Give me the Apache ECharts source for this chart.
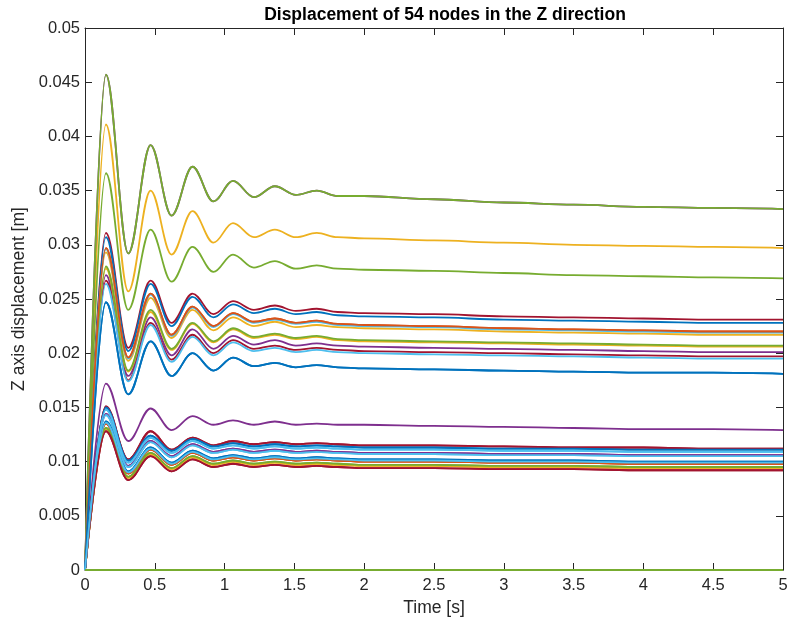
<!DOCTYPE html>
<html>
<head>
<meta charset="utf-8">
<script src="https://cdn.jsdelivr.net/npm/echarts@6/dist/echarts.min.js"></script>
<style>
  html, body { margin: 0; padding: 0; background: #fff; }
  #chart { width: 791px; height: 625px; }
</style>
</head>
<body>
<div id="chart"></div>
<script>
// Sample times [s]: start, successive peaks/troughs of the oscillation, then the settled tail
const times = [0, 0.15, 0.31, 0.47, 0.62, 0.77, 0.92, 1.06, 1.21, 1.36, 1.51, 1.66, 1.81, 2.0, 2.5, 3.0, 3.5, 4.0, 4.5, 5.0];

const xTicks = [0, 0.5, 1, 1.5, 2, 2.5, 3, 3.5, 4, 4.5, 5];
const yTicks = [0, 0.005, 0.01, 0.015, 0.02, 0.025, 0.03, 0.035, 0.04, 0.045, 0.05];

// Z displacement [m] of each response group, sampled at `times`
const zTop    = [0, .0457, .0292, .0392, .0327, .0372, .0340, .0359, .0344, .0354, .0346, .0350, .0345, .0345, .0342, .0339, .0337, .0335, .0334, .0333];
const zUpperA = [0, .0411, .0257, .0350, .0291, .0331, .0302, .0320, .0307, .0314, .0307, .0311, .0307, .0306, .0304, .0302, .0300, .0299, .0298, .0297];
const zUpperB = [0, .0366, .0240, .0314, .0266, .0298, .0275, .0291, .0279, .0285, .0278, .0281, .0278, .0277, .0276, .0274, .0272, .0271, .0270, .0269];

const zMid1  = [0, .0311, .0205, .0267, .0228, .0255, .0236, .0248, .0240, .0244, .0239, .0241, .0238, .0237, .0236, .0234, .0233, .0232, .0231, .0231];
const zMid2  = [0, .0307, .0202, .0264, .0225, .0252, .0233, .0245, .0237, .0241, .0236, .0238, .0235, .0234, .0233, .0231, .0230, .0229, .0228, .0228];
const zMid3  = [0, .0297, .0196, .0255, .0217, .0243, .0225, .0237, .0229, .0232, .0228, .0230, .0227, .0226, .0225, .0223, .0222, .0221, .0220, .0220];
const zMid4  = [0, .0296, .0195, .0254, .0216, .0242, .0224, .0236, .0228, .0231, .0227, .0229, .0226, .0225, .0224, .0222, .0221, .0220, .0219, .0219];
const zMid5  = [0, .0293, .0193, .0251, .0214, .0240, .0221, .0233, .0225, .0229, .0224, .0226, .0224, .0223, .0222, .0220, .0219, .0218, .0217, .0217];
const zMid6  = [0, .0280, .0184, .0240, .0204, .0228, .0211, .0223, .0215, .0218, .0214, .0216, .0213, .0212, .0211, .0210, .0209, .0208, .0207, .0207];
const zMid7  = [0, .0278, .0183, .0238, .0203, .0227, .0210, .0222, .0214, .0217, .0213, .0215, .0212, .0211, .0210, .0209, .0208, .0207, .0206, .0206];
const zMid8  = [0, .0272, .0179, .0233, .0198, .0222, .0204, .0216, .0208, .0212, .0207, .0209, .0207, .0206, .0205, .0204, .0203, .0202, .0201, .0201];
const zMid9  = [0, .0267, .0175, .0228, .0194, .0217, .0200, .0212, .0204, .0207, .0203, .0205, .0203, .0202, .0201, .0200, .0199, .0198, .0197, .0197];
const zMid10 = [0, .0264, .0174, .0226, .0192, .0215, .0198, .0210, .0202, .0205, .0201, .0203, .0201, .0200, .0199, .0198, .0197, .0196, .0195, .0195];
const zMid11 = [0, .0247, .0162, .0211, .0179, .0200, .0184, .0196, .0188, .0191, .0187, .0189, .0187, .0186, .0185, .0184, .0183, .0182, .0182, .0181];

const zLow0  = [0, .0172, .0119, .0149, .0129, .0142, .0134, .0138, .0134, .0137, .0134, .0135, .0134, .0134, .0133, .0132, .0131, .0130, .0130, .0129];
const zLow1  = [0, .0151, .0102, .0128, .0111, .0122, .0115, .0119, .0116, .0118, .0116, .0117, .0116, .0115, .0115, .0114, .0113, .0113, .0112, .0112];
const zLow2  = [0, .0150, .0101, .0124, .0110, .0121, .0114, .0117, .0114, .0116, .0114, .0115, .0114, .0113, .0113, .0112, .0112, .0111, .0111, .0111];
const zLow3  = [0, .0148, .0099, .0122, .0108, .0119, .0112, .0115, .0112, .0114, .0112, .0113, .0112, .0111, .0111, .0110, .0110, .0109, .0109, .0109];
const zLow4  = [0, .0144, .0096, .0119, .0105, .0116, .0109, .0112, .0109, .0111, .0109, .0110, .0109, .0108, .0108, .0107, .0107, .0106, .0106, .0106];
const zLow5  = [0, .0143, .0095, .0118, .0104, .0115, .0108, .0111, .0108, .0110, .0108, .0109, .0108, .0107, .0107, .0106, .0106, .0105, .0105, .0105];
const zLow6  = [0, .0137, .0091, .0113, .0099, .0110, .0103, .0106, .0103, .0105, .0103, .0104, .0103, .0102, .0102, .0101, .0101, .0100, .0100, .0100];
const zLow7  = [0, .0136, .0090, .0112, .0098, .0109, .0102, .0105, .0102, .0104, .0102, .0103, .0102, .0101, .0101, .0100, .0100, .0099, .0099, .0099];
const zLow8  = [0, .0135, .0089, .0111, .0097, .0108, .0101, .0104, .0101, .0103, .0101, .0102, .0101, .0100, .0100, .0099, .0099, .0098, .0098, .0098];
const zLow9  = [0, .0131, .0086, .0108, .0094, .0105, .0098, .0101, .0098, .0100, .0098, .0099, .0098, .0097, .0097, .0096, .0096, .0095, .0095, .0095];
const zLow10 = [0, .0130, .0085, .0107, .0093, .0104, .0097, .0100, .0097, .0099, .0097, .0098, .0097, .0096, .0096, .0095, .0095, .0094, .0094, .0094];
const zLow11 = [0, .0128, .0083, .0105, .0091, .0102, .0095, .0098, .0095, .0097, .0095, .0096, .0095, .0094, .0094, .0093, .0093, .0092, .0092, .0092];

const zFixed = [0, 0, 0, 0, 0, 0, 0, 0, 0, 0, 0, 0, 0, 0, 0, 0, 0, 0, 0, 0];

// Response group of each of the 54 nodes, in node order
const nodeCurve = [
  zMid11, zLow8,  zUpperA, zTop,   zTop,   zLow3,  zMid1,
  zMid2,  zMid3,  zMid5,   zMid8,  zUpperB, zMid4, zMid9,
  zLow2,  zLow8,  zMid7,   zLow0,  zMid6,  zMid10, zLow1,
  zLow6,  zMid3,  zLow10,  zLow4,  zLow9,  zLow5,  zLow11,
  zLow6,  zLow8,  zLow10,  zLow4,  zLow9,  zLow7,  zLow1,
  zLow2,  zFixed, zFixed,  zFixed, zFixed, zLow3,  zLow11,
  zMid11, zFixed, zFixed,  zFixed, zFixed, zLow5,  zFixed,
  zFixed, zFixed, zFixed,  zFixed, zFixed
];

// MATLAB default line colour order
const palette = ['#0072BD', '#D95319', '#EDB120', '#7E2F8E', '#77AC30', '#4DBEEE', '#A2142F'];

const AXIS = '#262626';
const FONT = '"Liberation Sans", Arial, Helvetica, sans-serif';

const series = nodeCurve.map((curve, i) => ({
  name: 'Node ' + (i + 1),
  type: 'line',
  data: times.map((t, k) => [t, curve[k]]),
  showSymbol: false,
  symbol: 'none',
  smooth: 0.36,
  smoothMonotone: 'x',
  lineStyle: { width: 1.8, color: palette[i % palette.length] },
  itemStyle: { color: palette[i % palette.length] },
  animation: false
}));

const fmt = v => String(+(+v).toFixed(3));

const baseAxis = {
  type: 'value',
  axisLine: { show: true, onZero: false, lineStyle: { color: AXIS, width: 1 } },
  axisTick: { show: true, inside: true, length: 7, lineStyle: { color: AXIS, width: 1 } },
  splitLine: { show: false }
};

const chart = echarts.init(document.getElementById('chart'), null, { renderer: 'canvas' });
chart.setOption({
  animation: false,
  backgroundColor: '#ffffff',
  title: {
    text: 'Displacement of 54 nodes in the Z direction',
    left: 440,
    top: 1,
    textAlign: 'center',
    textStyle: { fontFamily: FONT, fontSize: 17.5, fontWeight: 'bold', color: '#000' }
  },
  grid: { left: 85, right: 8, top: 28, bottom: 55, containLabel: false },
  xAxis: [
    Object.assign({}, baseAxis, {
      position: 'bottom', min: xTicks[0], max: xTicks[xTicks.length - 1], interval: 0.5,
      name: 'Time [s]', nameLocation: 'middle', nameGap: 28,
      nameTextStyle: { fontFamily: FONT, fontSize: 17.5, color: AXIS },
      axisLabel: { margin: 7, fontFamily: FONT, fontSize: 16.5, color: AXIS, formatter: fmt }
    }),
    Object.assign({}, baseAxis, {
      position: 'top', min: xTicks[0], max: xTicks[xTicks.length - 1], interval: 0.5,
      axisLabel: { show: false }
    })
  ],
  yAxis: [
    Object.assign({}, baseAxis, {
      position: 'left', min: yTicks[0], max: yTicks[yTicks.length - 1], interval: 0.005,
      name: 'Z axis displacement [m]', nameLocation: 'middle', nameGap: 55,
      nameTextStyle: { fontFamily: FONT, fontSize: 17.5, color: AXIS },
      axisLabel: { margin: 5, fontFamily: FONT, fontSize: 16.5, color: AXIS, formatter: fmt }
    }),
    Object.assign({}, baseAxis, {
      position: 'right', min: yTicks[0], max: yTicks[yTicks.length - 1], interval: 0.005,
      axisLabel: { show: false }
    })
  ],
  series: series
});
</script>
</body>
</html>
